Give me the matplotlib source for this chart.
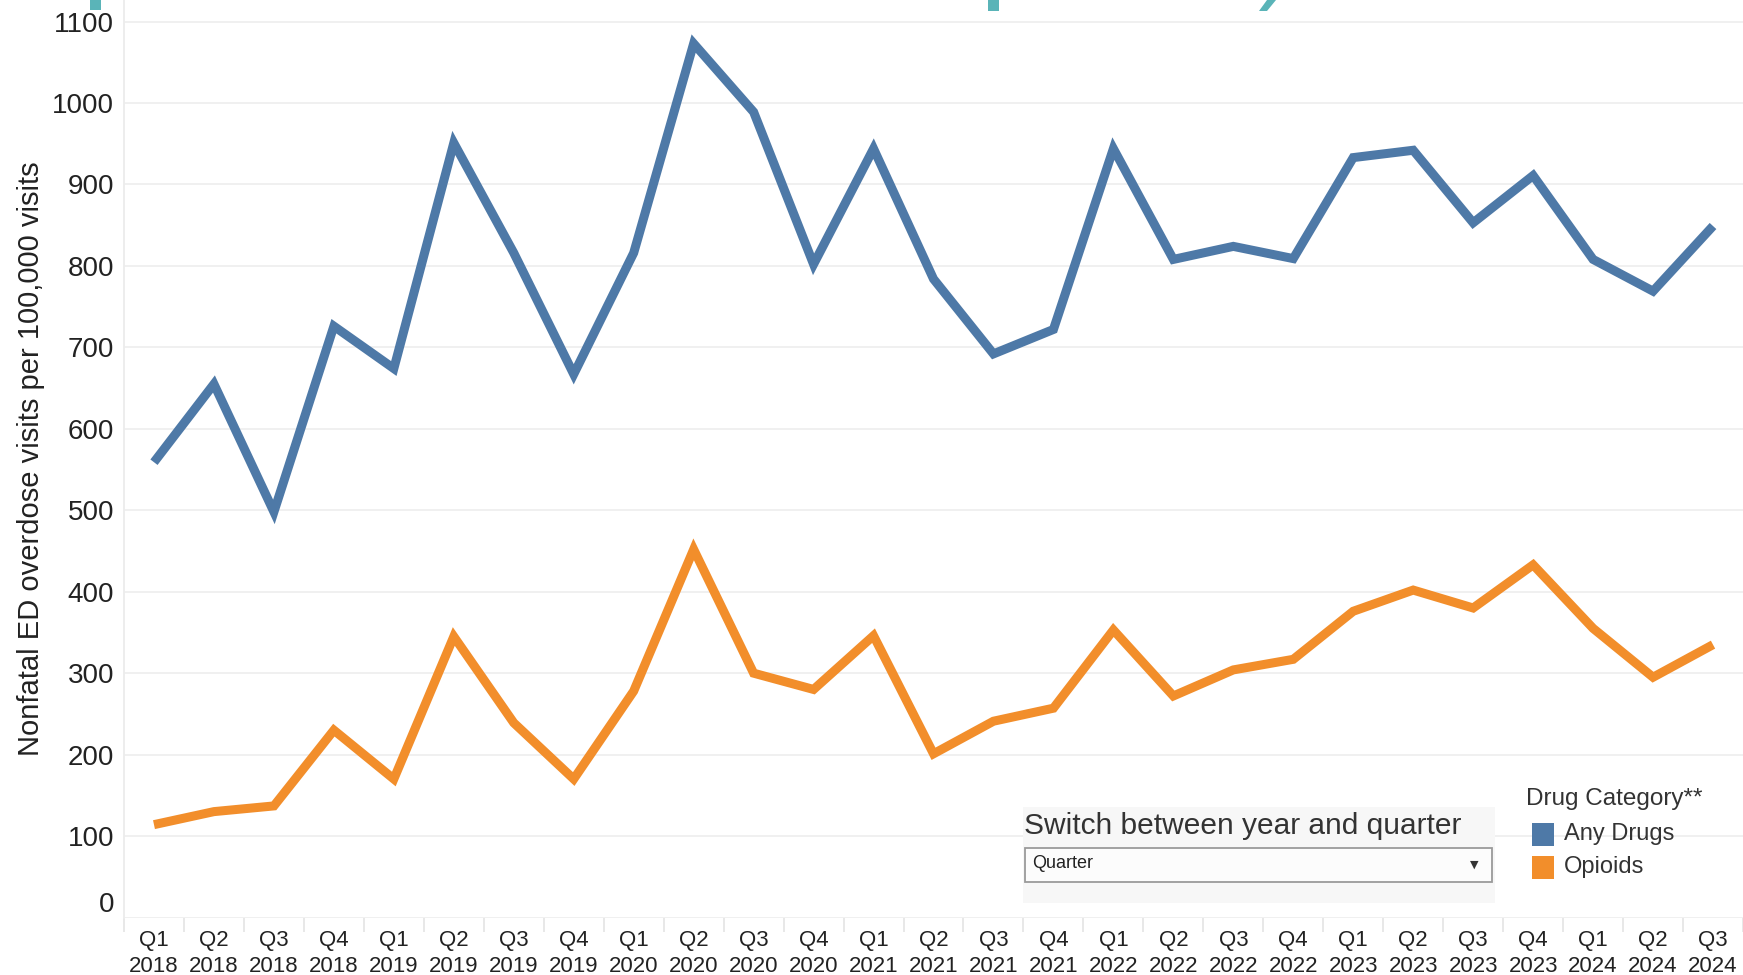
import matplotlib
matplotlib.use("Agg")
import matplotlib.pyplot as plt
from matplotlib.patches import Rectangle, Polygon

plt.rcParams['font.family'] = ['Liberation Sans', 'DejaVu Sans']

# ---------------- data ----------------
quarters = ["Q1", "Q2", "Q3", "Q4"] * 6 + ["Q1", "Q2", "Q3"]
years = [y for y in range(2018, 2024) for _ in range(4)] + [2024] * 3
tick_labels = [f"{q}\n{y}" for q, y in zip(quarters, years)]

any_drugs = [559, 655, 498, 726, 674, 951, 816, 667, 816, 1073, 989, 802, 944, 784,
             692, 722, 944, 808, 824, 809, 933, 942, 853, 911, 808, 769, 849]
opioids = [114, 130, 137, 230, 170, 345, 239, 170, 278, 452, 300, 280, 346, 201,
           241, 257, 353, 272, 304, 317, 376, 402, 380, 433, 355, 295, 335]

series_names = ["Any Drugs", "Opioids"]
series_colors = ["#4e79a7", "#f28e2b"]
y_ticks = list(range(0, 1200, 100))

W, H = 1743, 975
fig = plt.figure(figsize=(W / 100, H / 100), dpi=100)
fig.patch.set_facecolor("white")


def fx(px):
    return px / W


def fy(py):  # py measured from top
    return 1 - py / H


ax = fig.add_axes([fx(124), 57.5 / H, fx(W - 124), 917.5 / H])
x = list(range(len(tick_labels)))
for vals, name, col in zip([any_drugs, opioids], series_names, series_colors):
    ax.plot(x, vals, color=col, lw=6.5, solid_joinstyle="miter", solid_capstyle="butt", label=name, zorder=3)

ax.set_xlim(-0.5, len(x) - 0.5)
ax.set_ylim(0, 1126.5)
ax.set_yticks(y_ticks)
ax.set_yticklabels([str(v) for v in y_ticks], fontsize=20, color="#222222")
ax.yaxis.grid(True, color="#efefef", lw=1.3, zorder=0)
ax.tick_params(axis="y", length=0, pad=7)
ylabels = ax.get_yticklabels()
ylabels[0].set_verticalalignment("bottom")

ax.set_xticks(x)
ax.set_xticklabels(tick_labels, fontsize=16, color="#222222", linespacing=1.3)
ax.set_xticks([i - 0.5 for i in range(len(x) + 1)], minor=True)
ax.tick_params(axis="x", which="major", length=0, pad=9)
ax.tick_params(axis="x", which="minor", length=10, color="#e4e4e4", width=1.2)

for s in ["top", "right", "bottom"]:
    ax.spines[s].set_visible(False)
ax.spines["left"].set_color("#ececec")
ax.spines["left"].set_linewidth(1.3)

fig.text(fx(31), fy(459), "Nonfatal ED overdose visits per 100,000 visits", rotation=90,
         ha="center", va="center", fontsize=21, color="#222222")

# clipped title fragments at top
teal = "#5ab4b8"
fig.add_artist(Rectangle((fx(90), fy(10)), fx(11), 10 / H, transform=fig.transFigure, color=teal, lw=0))
fig.add_artist(Rectangle((fx(988), fy(11)), fx(11), 11 / H, transform=fig.transFigure, color=teal, lw=0))
fig.add_artist(Polygon([(fx(1259), fy(11)), (fx(1267), fy(11)), (fx(1276), fy(0)), (fx(1267), fy(0))],
                       closed=True, transform=fig.transFigure, color=teal, lw=0))

# parameter control panel
fig.add_artist(Rectangle((fx(1023), fy(903)), fx(472), 96 / H, transform=fig.transFigure,
                         facecolor="#f7f7f7", edgecolor="none", zorder=5))
fig.text(fx(1024), fy(826), "Switch between year and quarter", fontsize=21.5, color="#333333",
         ha="left", va="center", zorder=6)
fig.add_artist(Rectangle((fx(1025), fy(882)), fx(467), 34 / H, transform=fig.transFigure,
                         facecolor="#fcfcfc", edgecolor="#9a9a9a", lw=1.3, zorder=6))
fig.text(fx(1032), fy(864), "Quarter", fontsize=13, color="#222222", ha="left", va="center", zorder=7)
fig.text(fx(1474), fy(865), "▼", fontsize=8, color="#333333", ha="center", va="center", zorder=7,
         family="DejaVu Sans")

# legend
fig.text(fx(1526), fy(799), "Drug Category**", fontsize=17.5, color="#333333", ha="left", va="center")
for i, (name, col) in enumerate(zip(series_names, series_colors)):
    top = 823 + i * 33
    fig.add_artist(Rectangle((fx(1532), fy(top + 23)), fx(22), 23 / H, transform=fig.transFigure,
                             facecolor=col, edgecolor="none"))
    fig.text(fx(1564), fy(top + 11), name, fontsize=17, color="#333333", ha="left", va="center")

fig.savefig("out.png", dpi=100, facecolor="white")
